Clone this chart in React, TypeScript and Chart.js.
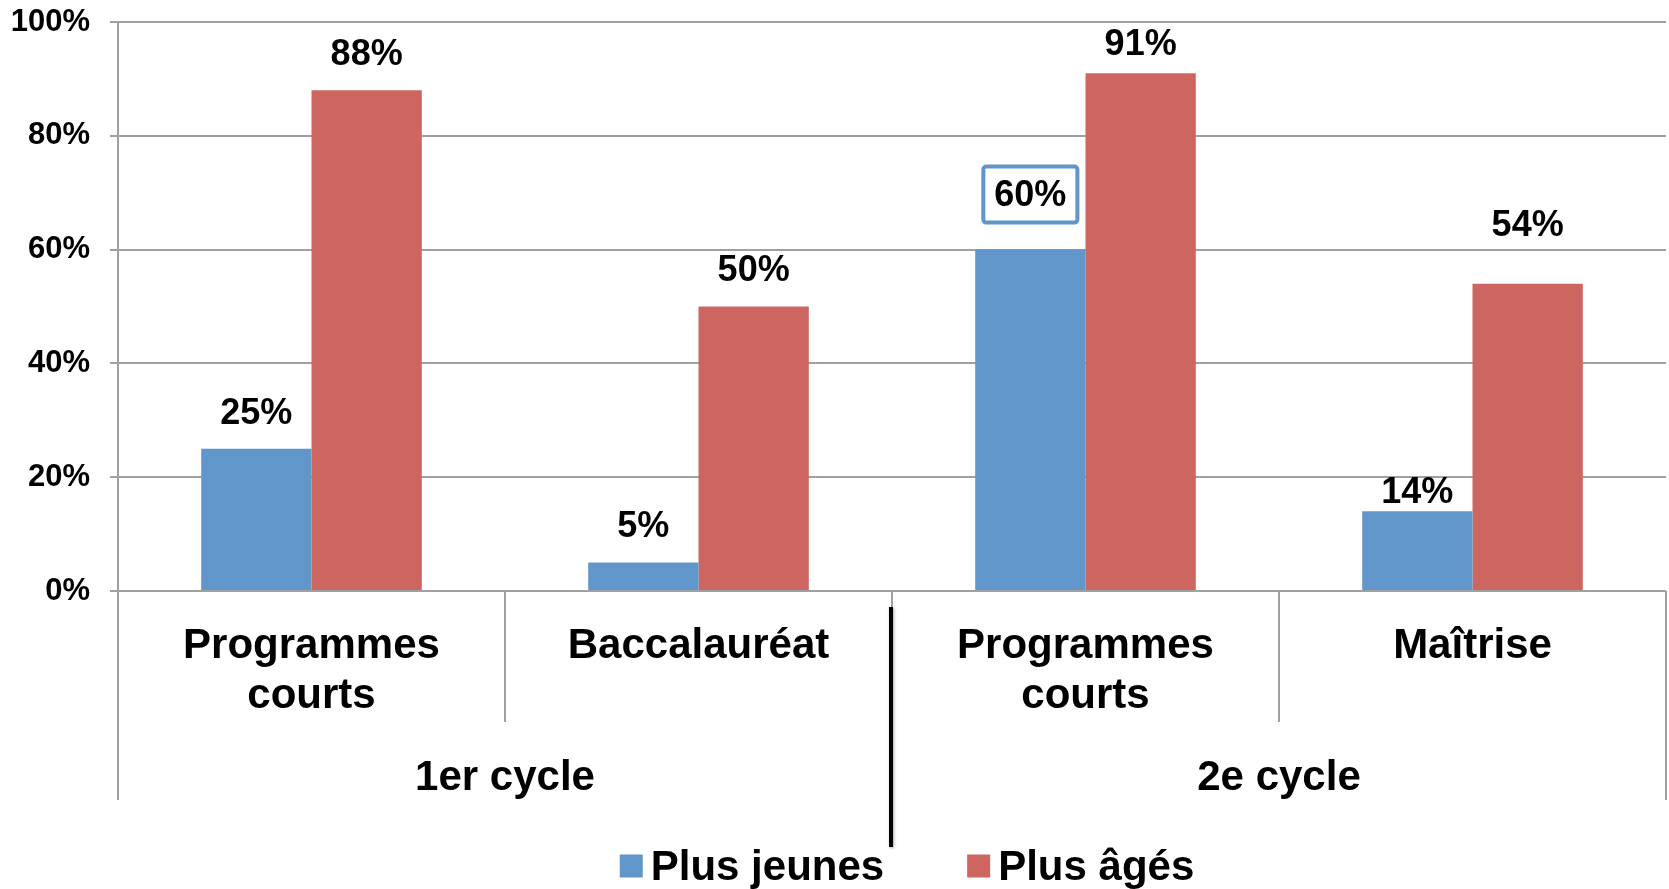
import React, { useEffect, useRef } from 'react';
import { Chart, registerables } from 'chart.js';

Chart.register(...registerables);

// ---- data ----
const categories: string[][] = [['Programmes', 'courts'], ['Baccalauréat'], ['Programmes', 'courts'], ['Maîtrise']];
const groupLabels = ['1er cycle', '2e cycle'];
const groupSizes = [2, 2];
const seriesNames = ['Plus jeunes', 'Plus âgés'];
const youngerValues = [25, 5, 60, 14];
const olderValues = [88, 50, 91, 54];
const yTickValues = [0, 20, 40, 60, 80, 100];

// ---- style ----
const BLUE = '#6096C9';
const RED = '#CD6660';
const GRID = '#A0A0A0';
const FONT = '"Liberation Sans", Arial, Helvetica, sans-serif';

const decorPlugin = {
  id: 'decor',
  afterDatasetsDraw(chart: any, _args: any, opts: any) {
    const ctx = chart.ctx;
    ctx.save();
    ctx.font = `bold ${opts.labelSize}px ${FONT}`;
    ctx.textAlign = 'center';
    ctx.textBaseline = 'middle';
    chart.data.datasets.forEach((ds: any, di: number) => {
      const meta = chart.getDatasetMeta(di);
      meta.data.forEach((el: any, i: number) => {
        const key = `${di}-${i}`;
        const lift = opts.lift[key] ?? opts.defaultLift;
        const text = `${ds.data[i]}%`;
        const cx = el.x;
        const cy = el.y - lift;
        if (opts.boxed.includes(key)) {
          const w = ctx.measureText(text).width + 22;
          const h = 56;
          ctx.beginPath();
          ctx.roundRect(cx - w / 2, cy - h / 2, w, h, 3);
          ctx.fillStyle = '#FFFFFF';
          ctx.fill();
          ctx.lineWidth = 4;
          ctx.strokeStyle = BLUE;
          ctx.stroke();
        }
        ctx.fillStyle = '#000000';
        ctx.fillText(text, cx, cy + 1);
      });
    });
    ctx.restore();
  },
  afterDraw(chart: any, _args: any, opts: any) {
    const ctx = chart.ctx;
    const { left, right, bottom } = chart.chartArea;
    const xs = chart.scales.x;
    const n = chart.data.labels.length;
    const bounds: number[] = [];
    for (let i = 0; i <= n; i++) {
      if (i === 0) bounds.push(left);
      else if (i === n) bounds.push(right);
      else bounds.push((xs.getPixelForValue(i - 1) + xs.getPixelForValue(i)) / 2);
    }
    const groupBounds: number[] = [0];
    groupSizes.forEach((s) => groupBounds.push(groupBounds[groupBounds.length - 1] + s));

    ctx.save();
    ctx.strokeStyle = GRID;
    ctx.lineWidth = 2;
    bounds.forEach((bx, i) => {
      const isEdge = i === 0 || i === n;
      const isGroup = groupBounds.includes(i) && !isEdge;
      ctx.beginPath();
      ctx.moveTo(bx, bottom);
      ctx.lineTo(bx, bottom + (isEdge ? 209 : isGroup ? 16 : 131));
      ctx.stroke();
    });
    // thick black separator between groups
    groupBounds.forEach((gi) => {
      if (gi === 0 || gi === n) return;
      const bx = bounds[gi];
      ctx.save();
      ctx.shadowColor = 'rgba(0,0,0,0.35)';
      ctx.shadowBlur = 3;
      ctx.shadowOffsetX = 1;
      ctx.shadowOffsetY = 1;
      ctx.strokeStyle = '#000000';
      ctx.lineWidth = 4;
      ctx.beginPath();
      ctx.moveTo(bx - 1, bottom + 16);
      ctx.lineTo(bx - 1, bottom + 256);
      ctx.stroke();
      ctx.restore();
    });
    // group labels
    ctx.fillStyle = '#000000';
    ctx.font = `bold ${opts.catSize}px ${FONT}`;
    ctx.textAlign = 'center';
    ctx.textBaseline = 'middle';
    groupLabels.forEach((g, gi) => {
      const a = bounds[groupBounds[gi]];
      const b = bounds[groupBounds[gi + 1]];
      ctx.fillText(g, (a + b) / 2, bottom + 187);
    });
    // legend
    const box = 23;
    const gapText = 8;
    const gapItem = 83;
    const items = chart.data.datasets.map((ds: any) => ({
      label: ds.label,
      color: ds.backgroundColor,
      w: ctx.measureText(ds.label).width,
    }));
    const total = items.reduce((s: number, it: any) => s + box + gapText + it.w, 0) + gapItem * (items.length - 1);
    let cx = (left + right) / 2 + 15 - total / 2;
    const ly = bottom + 275;
    ctx.textAlign = 'left';
    items.forEach((it: any) => {
      ctx.fillStyle = it.color;
      ctx.fillRect(cx, ly - box / 2, box, box);
      ctx.fillStyle = '#000000';
      ctx.fillText(it.label, cx + box + gapText, ly + 2);
      cx += box + gapText + it.w + gapItem;
    });
    ctx.restore();
  },
};

export default function App() {
  const ref = useRef<HTMLCanvasElement | null>(null);

  useEffect(() => {
    document.body.style.margin = '0';
    const canvas = ref.current;
    if (!canvas) return;
    const chart = new Chart(canvas, {
      type: 'bar',
      data: {
        labels: categories,
        datasets: [
          { label: seriesNames[0], data: youngerValues, backgroundColor: BLUE, borderWidth: 0 },
          { label: seriesNames[1], data: olderValues, backgroundColor: RED, borderWidth: 0 },
        ],
      },
      options: {
        animation: false,
        responsive: false,
        maintainAspectRatio: false,
        datasets: { bar: { categoryPercentage: 0.57, barPercentage: 1.0 } },
        layout: { padding: { top: 22, right: 3, left: 0, bottom: 0 } },
        plugins: {
          legend: { display: false },
          tooltip: { enabled: false },
          decor: {
            labelSize: 36,
            catSize: 42,
            defaultLift: 36,
            lift: { '0-3': 19, '0-2': 55, '1-3': 59, '1-2': 29 },
            boxed: ['0-2'],
          },
        } as any,
        scales: {
          x: {
            type: 'category',
            offset: true,
            grid: { display: false, drawTicks: false },
            border: { display: false },
            ticks: {
              color: '#000000',
              font: { family: FONT, size: 42, weight: 'bold', lineHeight: 1.2 },
              padding: 30,
              maxRotation: 0,
              autoSkip: false,
            },
            afterFit: (s: any) => {
              s.height = 298;
              s.paddingLeft = 0;
              s.paddingRight = 0;
            },
          },
          y: {
            min: 0,
            max: 100,
            afterBuildTicks: (s: any) => {
              s.ticks = yTickValues.map((v) => ({ value: v }));
            },
            grid: { color: GRID, lineWidth: 2, tickLength: 8, drawTicks: true },
            border: { display: true, color: GRID, width: 2 },
            ticks: {
              color: '#000000',
              font: { family: FONT, size: 31, weight: 'bold' },
              padding: 20,
              callback: (v: any) => `${v}%`,
            },
            afterFit: (s: any) => {
              s.width = 118;
              s.paddingTop = 0;
              s.paddingBottom = 0;
            },
          },
        },
      },
      plugins: [decorPlugin],
    });
    return () => chart.destroy();
  }, []);

  return (
    <div style={{ width: 1669, height: 889, overflow: 'hidden', background: '#FFFFFF' }}>
      <canvas ref={ref} width={1669} height={889} style={{ display: 'block' }} />
    </div>
  );
}
